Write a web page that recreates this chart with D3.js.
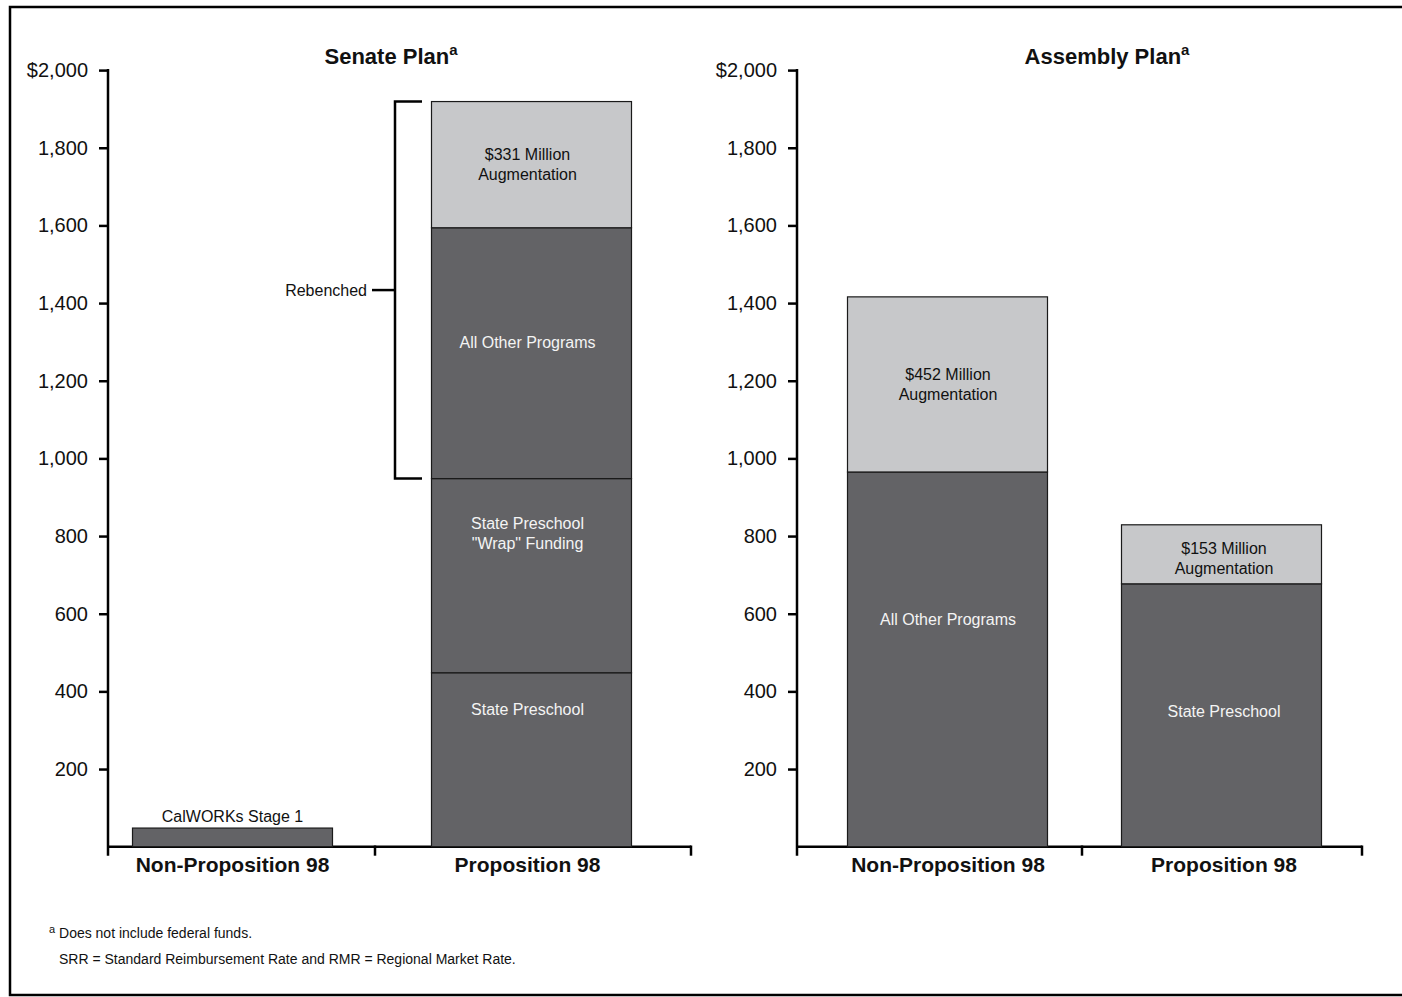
<!DOCTYPE html>
<html>
<head>
<meta charset="utf-8">
<script src="https://cdn.jsdelivr.net/npm/d3@7"></script>
<style>
  body { margin: 0; background: #fff; }
  svg { font-family: "Liberation Sans", Arial, Helvetica, sans-serif; }
</style>
</head>
<body>
<div id="graph-container"></div>
<script>
// chart values (millions of dollars)
var categories = ["Non-Proposition 98", "Proposition 98"];
var yTicks = [200, 400, 600, 800, 1000, 1200, 1400, 1600, 1800, 2000];

var senateNonProp = [48];
var senateNonPropLabels = ["CalWORKs Stage 1"];
var senateProp = [448, 500, 646, 325];
var senatePropLabels = ["State Preschool", "State Preschool|\"Wrap\" Funding", "All Other Programs", "$331 Million|Augmentation"];
var senatePropAug = [false, false, false, true];

var assemblyNonProp = [965, 451];
var assemblyNonPropLabels = ["All Other Programs", "$452 Million|Augmentation"];
var assemblyNonPropAug = [false, true];
var assemblyProp = [677, 152];
var assemblyPropLabels = ["State Preschool", "$153 Million|Augmentation"];
var assemblyPropAug = [false, true];

var width = 1402, height = 997;
var dark = "#636366", light = "#c7c8ca";

var svg = d3.select("#graph-container")
    .append("svg")
    .attr("width", width)
    .attr("height", height);

// outer frame
svg.append("rect")
    .attr("x", 10).attr("y", 7)
    .attr("width", 1410).attr("height", 988)
    .attr("fill", "none")
    .attr("stroke", "#000")
    .attr("stroke-width", 2.5);

var y = d3.scaleLinear().domain([0, 2000]).range([846.7, 70.1]);

// build stacked segments from values
function stack(values, labels, aug) {
    var acc = 0;
    return values.map(function (v, i) {
        var seg = { y0: acc, y1: acc + v, label: labels[i], aug: aug ? aug[i] : false };
        acc += v;
        return seg;
    });
}

function drawPanel(opt) {
    var g = svg.append("g");
    var x = d3.scalePoint().domain(categories).range(opt.centers);
    var barW = 200;

    // y axis
    var axis = d3.axisLeft(y)
        .tickValues(yTicks)
        .tickSize(9)
        .tickPadding(11)
        .tickFormat(function (d) { return d === 2000 ? "$2,000" : d3.format(",")(d); });
    var ax = g.append("g")
        .attr("transform", "translate(" + opt.axisX + ",0)")
        .call(axis);
    ax.select(".domain").remove();
    ax.selectAll("line").attr("stroke", "#000").attr("stroke-width", 2.5);
    ax.selectAll("text")
        .attr("fill", "#111")
        .style("font-size", "20px");

    g.append("line")
        .attr("x1", opt.axisX).attr("x2", opt.axisX)
        .attr("y1", y(2000) - 1.2).attr("y2", y(0) + 9)
        .attr("stroke", "#000").attr("stroke-width", 2.5);

    // x axis with divider ticks
    g.append("line")
        .attr("x1", opt.axisX).attr("x2", opt.xEnd)
        .attr("y1", y(0)).attr("y2", y(0))
        .attr("stroke", "#000").attr("stroke-width", 2.5);
    [opt.divider, opt.xEnd].forEach(function (tx) {
        g.append("line")
            .attr("x1", tx).attr("x2", tx)
            .attr("y1", y(0) - 1.2).attr("y2", y(0) + 9)
            .attr("stroke", "#000").attr("stroke-width", 2.5);
    });

    g.selectAll(".cat")
        .data(categories)
        .join("text")
        .attr("x", function (d, i) { return x(d) + opt.textShift[i]; })
        .attr("y", 872)
        .attr("text-anchor", "middle")
        .style("font-size", "21px")
        .style("font-weight", "bold")
        .attr("fill", "#111")
        .text(function (d) { return d; });

    // title
    var t = g.append("text")
        .attr("x", opt.titleX)
        .attr("y", 64)
        .attr("text-anchor", "middle")
        .style("font-size", "22px")
        .style("font-weight", "bold")
        .attr("fill", "#111");
    t.append("tspan").text(opt.title);
    t.append("tspan").attr("dy", -9).style("font-size", "15px").text("a");

    // bars
    opt.bars.forEach(function (b, bi) {
        var segs = b.segs;
        var cx = x(b.cat);
        var tx = cx + opt.textShift[bi];
        g.selectAll(null)
            .data(segs)
            .join("rect")
            .attr("x", cx - barW / 2)
            .attr("width", barW)
            .attr("y", function (d) { return y(d.y1); })
            .attr("height", function (d) { return y(d.y0) - y(d.y1); })
            .attr("fill", function (d) { return d.aug ? light : dark; })
            .attr("stroke", "#1a1a1a")
            .attr("stroke-width", 1.2);

        segs.forEach(function (d, si) {
            var lines = d.label.split("|");
            var small = (y(d.y0) - y(d.y1)) < 30;
            var nudge = b.labelDy ? b.labelDy[si] : 0;
            var cy = small ? y(d.y1) - 12 : (y(d.y0) + y(d.y1)) / 2 + nudge;
            var txt = g.append("text")
                .attr("text-anchor", "middle")
                .style("font-size", "16px")
                .attr("fill", small || d.aug ? "#111" : "#f4f4f4");
            lines.forEach(function (l, i) {
                txt.append("tspan")
                    .attr("x", tx)
                    .attr("y", cy + 5.5 + (i - (lines.length - 1) / 2) * 19.5)
                    .text(l);
            });
        });
    });

    return { x: x };
}

drawPanel({
    title: "Senate Plan",
    titleX: 391,
    axisX: 108,
    xEnd: 691,
    divider: 375,
    centers: [232.5, 531.5],
    textShift: [0, -4],
    bars: [
        { cat: categories[0], segs: stack(senateNonProp, senateNonPropLabels) },
        { cat: categories[1], segs: stack(senateProp, senatePropLabels, senatePropAug), labelDy: [-50, -42, -11, 0] }
    ]
});

drawPanel({
    title: "Assembly Plan",
    titleX: 1107,
    axisX: 797,
    xEnd: 1362,
    divider: 1082,
    centers: [947.5, 1221.5],
    textShift: [0.5, 2.5],
    bars: [
        { cat: categories[0], segs: stack(assemblyNonProp, assemblyNonPropLabels, assemblyNonPropAug), labelDy: [-40, 0] },
        { cat: categories[1], segs: stack(assemblyProp, assemblyPropLabels, assemblyPropAug), labelDy: [-4, 4] }
    ]
});

// "Rebenched" bracket: from top of wrap funding to top of augmentation
var propSegs = stack(senateProp, senatePropLabels, senatePropAug);
var bTop = y(propSegs[3].y1), bBot = y(propSegs[1].y1);
var bx = 395;
svg.append("path")
    .attr("d", "M" + 422 + "," + bTop + "H" + bx + "V" + bBot + "H" + 422)
    .attr("fill", "none")
    .attr("stroke", "#000")
    .attr("stroke-width", 2.5);
var bMid = (bTop + bBot) / 2;
svg.append("line")
    .attr("x1", 372).attr("x2", bx)
    .attr("y1", bMid).attr("y2", bMid)
    .attr("stroke", "#000").attr("stroke-width", 2.5);
svg.append("text")
    .attr("x", 367).attr("y", bMid + 5.5)
    .attr("text-anchor", "end")
    .style("font-size", "16px")
    .attr("fill", "#111")
    .text("Rebenched");

// footnotes
var fn = svg.append("text")
    .attr("x", 49).attr("y", 938)
    .style("font-size", "14px")
    .attr("fill", "#111");
fn.append("tspan").attr("dy", -5).style("font-size", "11px").text("a");
fn.append("tspan").attr("dy", 5).text(" Does not include federal funds.");
svg.append("text")
    .attr("x", 59).attr("y", 964)
    .style("font-size", "14px")
    .attr("fill", "#111")
    .text("SRR = Standard Reimbursement Rate and RMR = Regional Market Rate.");
</script>
</body>
</html>
